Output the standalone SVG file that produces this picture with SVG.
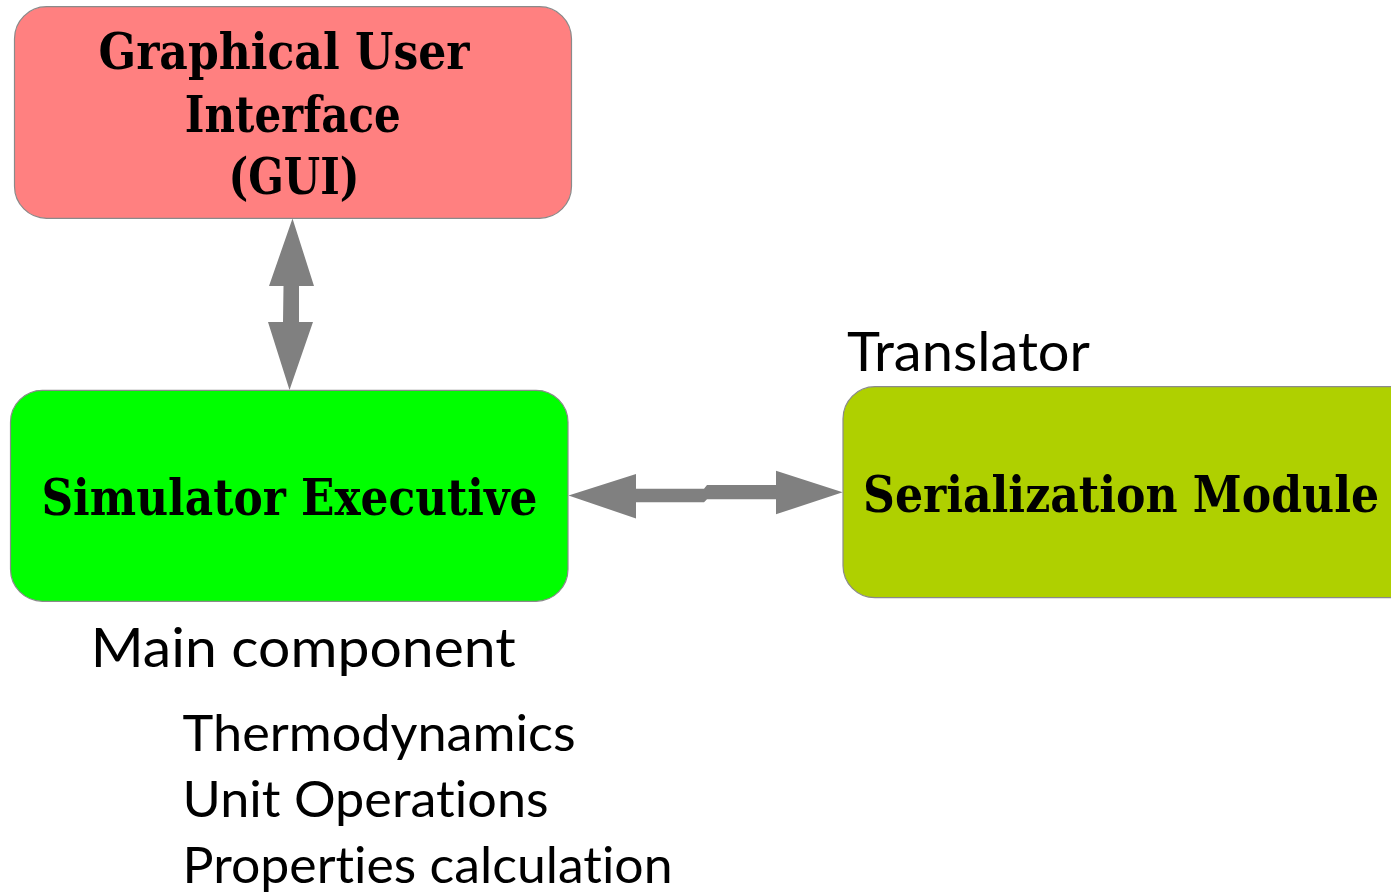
<svg xmlns="http://www.w3.org/2000/svg" width="1391" height="894" viewBox="0 0 1391 894">
  <style>
    .box { stroke: #8a8a8a; stroke-width: 1.2; }
    .title { font-family: "DejaVu Serif", "Liberation Serif", serif; font-weight: bold; font-stretch: condensed; font-size: 50px; fill: #000; }
    .note { font-family: Lato, "Noto Sans", "Liberation Sans", sans-serif; fill: #000; font-variant-ligatures: none; }
    .link { fill: #808080; stroke: none; }
  </style>
  <rect width="1391" height="894" fill="#ffffff"/>

  <g id="connectors">
    <polygon class="link" points="292.5,218.5 314,286 299,286 299,322 313,322 289.5,390 268,322 283,322 283.5,286 269,286"/>
    <polygon class="link" points="568.5,495.5 636,518.5 636,502.3 704,502.3 707,499.3 776,499.3 776,514.3 842.7,492.3 776,470.7 776,485 707,485 704,488.7 636,488.7 636,474"/>
  </g>

  <g id="gui">
    <rect class="box" x="14.5" y="6.7" width="557" height="211.6" rx="32" fill="#ff8080"/>
    <text class="title" x="98.5" y="69" textLength="371" lengthAdjust="spacingAndGlyphs">Graphical User</text>
    <text class="title" x="184.8" y="131.7" textLength="216" lengthAdjust="spacingAndGlyphs">Interface</text>
    <text class="title" x="228.5" y="194.3" textLength="131" lengthAdjust="spacingAndGlyphs">(GUI)</text>
  </g>

  <g id="simulator">
    <rect class="box" x="10.5" y="390.3" width="557.5" height="211" rx="32" fill="#00ff00"/>
    <text class="title" x="41.4" y="515" textLength="496" lengthAdjust="spacingAndGlyphs">Simulator Executive</text>
  </g>

  <g id="serialization">
    <rect class="box" x="843" y="386.7" width="580" height="211" rx="32" fill="#afd000"/>
    <text class="title" x="863" y="511.7" textLength="516" lengthAdjust="spacingAndGlyphs">Serialization Module</text>
  </g>

  <g id="labels">
    <text class="note" x="847" y="370.7" font-size="54" textLength="243" lengthAdjust="spacingAndGlyphs">Translator</text>
    <text class="note" x="90.7" y="667" font-size="54" textLength="425" lengthAdjust="spacingAndGlyphs">Main component</text>
    <text class="note" x="182.6" y="751" font-size="50" textLength="393" lengthAdjust="spacingAndGlyphs">Thermodynamics</text>
    <text class="note" x="182.6" y="817" font-size="50" textLength="366" lengthAdjust="spacingAndGlyphs">Unit Operations</text>
    <text class="note" x="182.6" y="883" font-size="50" textLength="490" lengthAdjust="spacingAndGlyphs">Properties calculation</text>
  </g>
</svg>
